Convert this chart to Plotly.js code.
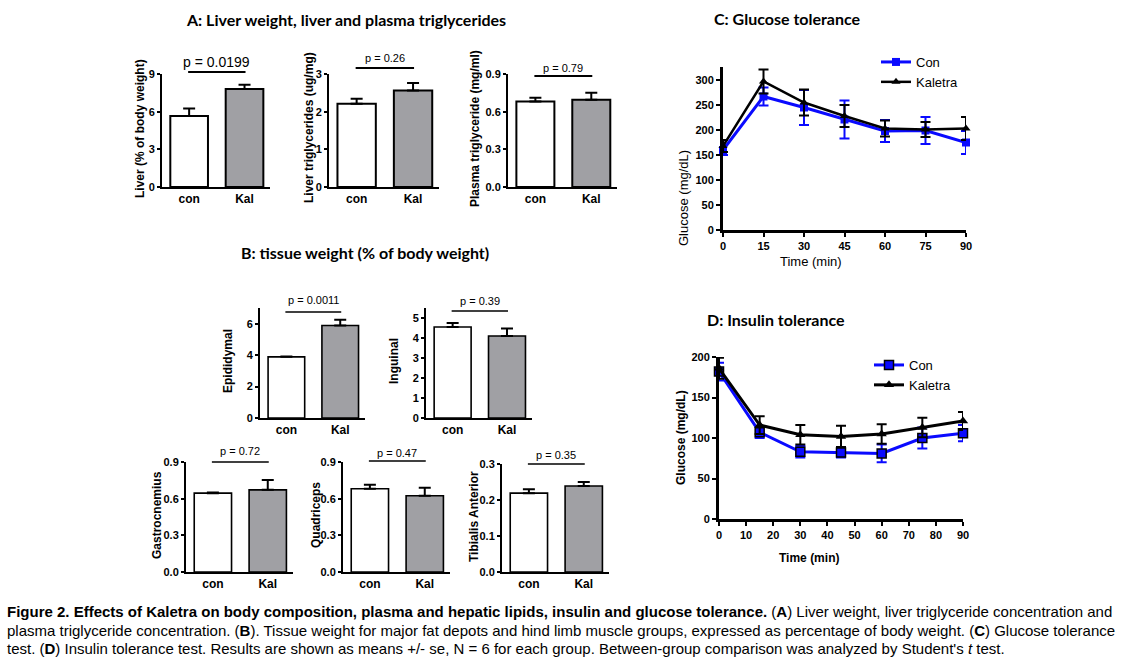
<!DOCTYPE html>
<html><head><meta charset="utf-8">
<script src="https://cdn.plot.ly/plotly-3.0.1.min.js"></script>
<style>html,body{margin:0;padding:0;background:#fff}</style>
</head><body><div id="chart" style="width:1123px;height:661px"></div>
<script>
// ---------- data ----------
const groups = ['con', 'Kal'];
const liverPct = [5.65, 7.8],   liverPctErr = [0.6, 0.35];
const liverTG = [2.21, 2.56],   liverTGErr = [0.13, 0.2];
const plasmaTG = [0.68, 0.695], plasmaTGErr = [0.03, 0.055];
const epididymal = [3.89, 5.89], epididymalErr = [0.02, 0.36];
const inguinal = [4.55, 4.1],   inguinalErr = [0.2, 0.38];
const gastro = [0.645, 0.672],  gastroErr = [0.006, 0.08];
const quad = [0.681, 0.624],    quadErr = [0.033, 0.065];
const tibialis = [0.219, 0.239], tibialisErr = [0.011, 0.011];
const pValues = ['p = 0.0199', 'p = 0.26', 'p = 0.79', 'p = 0.0011', 'p = 0.39', 'p = 0.72', 'p = 0.47', 'p = 0.35'];
const barTitles = ['Liver (% of body weight)', 'Liver triglycerides (ug/mg)', 'Plasma triglyceride (mg/ml)',
  'Epididymal', 'Inguinal', 'Gastrocnemius', 'Quadriceps', 'Tibialis Anterior'];
const barTicks = [[0, 3, 6, 9], [0, 1, 2, 3], [0, 0.3, 0.6, 0.9], [0, 2, 4, 6], [0, 1, 2, 3, 4, 5],
  [0, 0.3, 0.6, 0.9], [0, 0.3, 0.6, 0.9], [0, 0.1, 0.2, 0.3]];
const barTickText = [['0','3','6','9'], ['0','1','2','3'], ['0.0','0.3','0.6','0.9'], ['0','2','4','6'],
  ['0','1','2','3','4','5'], ['0.0','0.3','0.6','0.9'], ['0.0','0.3','0.6','0.9'], ['0.0','0.1','0.2','0.3']];
const barRanges = [[0, 9], [0, 3], [0, 0.9], [0, 7], [0, 5.5], [0, 0.9], [0, 0.9], [0, 0.3]];

const gttTime = [0, 15, 30, 45, 60, 75, 90];
const gttCon = [160, 267, 245, 221, 198, 199, 175];
const gttConErr = [10, 18, 35, 38, 22, 27, 23];
const gttKal = [168, 297, 255, 228, 203, 201, 203];
const gttKalErr = [12, 24, 26, 22, 16, 15, 23];
const gttTicks = [0, 15, 30, 45, 60, 75, 90];
const gttYTicks = [0, 50, 100, 150, 200, 250, 300];

const ittTime = [0, 15, 30, 45, 60, 75, 90];
const ittCon = [182, 107, 83, 82, 81, 100, 106];
const ittConErr = [11, 7, 7, 6, 11, 13, 10];
const ittKal = [186, 116, 104, 102, 105, 113, 121];
const ittKalErr = [13, 11, 12, 13, 12, 12, 11];
const ittTicks = [0, 10, 20, 30, 40, 50, 60, 70, 80, 90];
const ittYTicks = [0, 50, 100, 150, 200];

// ---------- layout helpers ----------
const W = 1123, H = 661;
const FONT = 'Liberation Sans, Arial, sans-serif';
const TFONT = 'Lato, Open Sans, sans-serif';
// [left, right, top, bottom] in px
const boxes = [
  [162, 270, 74, 187], [329, 439, 74, 187], [508, 617, 74, 187],
  [260, 365, 308, 418], [426, 532, 308, 418],
  [186, 293, 462, 572], [343, 450, 462, 572], [502, 609, 464, 572],
  [723, 966, 67, 230], [719, 963, 357, 519]
];
const px = x => x / W, py = y => 1 - y / H;
const XR = [-0.49, 1.46];

const layout = {
  width: W, height: H, margin: {l: 0, r: 0, t: 0, b: 0},
  paper_bgcolor: '#ffffff', plot_bgcolor: 'rgba(0,0,0,0)',
  font: {family: FONT, color: '#000'},
  showlegend: true, annotations: [], shapes: [], bargap: 0
};
const axBase = {
  showline: true, linecolor: '#000', linewidth: 2, showgrid: false, zeroline: false,
  ticks: 'outside', ticklen: 4, tickwidth: 2, tickcolor: '#000',
  tickfont: {family: FONT, size: 11, weight: 'bold', color: '#000'}, fixedrange: true
};
boxes.forEach((b, i) => {
  const n = i === 0 ? '' : String(i + 1);
  layout['xaxis' + n] = Object.assign({}, axBase, {domain: [px(b[0]), px(b[1])], anchor: 'y' + n});
  layout['yaxis' + n] = Object.assign({}, axBase, {domain: [py(b[3]), py(b[2])], anchor: 'x' + n});
});

const traces = [];
const barData = [[liverPct, liverPctErr], [liverTG, liverTGErr], [plasmaTG, plasmaTGErr],
  [epididymal, epididymalErr], [inguinal, inguinalErr], [gastro, gastroErr], [quad, quadErr], [tibialis, tibialisErr]];
const yTitleX = [140, 309, 475, 228, 394, 157, 316, 474];
const yTitleY = [129, 128, 129, 361, 361, 515, 515, 517];
const pTextY = [62, 58, 68, 300, 301, 451, 453, 455];
const pLineY = [72, 68, 76, 312, 311, 462, 461, 464];
const pSize = [14, 11, 11, 11, 11, 11, 11, 11];
const pLW = [2, 2, 2, 1.3, 1.3, 1.3, 1.3, 1.3];

barData.forEach((d, i) => {
  const n = i === 0 ? '' : String(i + 1);
  const b = boxes[i];
  traces.push({
    type: 'bar', x: groups, y: d[0], xaxis: 'x' + n, yaxis: 'y' + n, width: [0.68, 0.68],
    marker: {color: ['#ffffff', '#a0a0a4'], line: {color: '#000', width: i < 3 ? 2 : 1.6}},
    error_y: {type: 'data', symmetric: false, array: d[1], arrayminus: d[1].map(() => 0),
      color: '#000', thickness: 2, width: 6},
    showlegend: false, hoverinfo: 'skip'
  });
  Object.assign(layout['xaxis' + n], {type: 'category', range: XR, ticks: '',
    tickfont: {family: FONT, size: 12, weight: 'bold', color: '#000'}});
  Object.assign(layout['yaxis' + n], {range: barRanges[i], tickvals: barTicks[i], ticktext: barTickText[i], ticklen: 3});
  layout.annotations.push({xref: 'paper', yref: 'paper', x: px(yTitleX[i]), y: py(yTitleY[i]),
    text: '<b>' + barTitles[i] + '</b>', textangle: -90, showarrow: false,
    font: {family: FONT, size: 12, color: '#000'}, xanchor: 'center', yanchor: 'middle'});
  // significance bracket spanning category centres
  const cat = c => b[0] + (c - XR[0]) / (XR[1] - XR[0]) * (b[1] - b[0]);
  layout.shapes.push({type: 'line', xref: 'paper', yref: 'paper', x0: px(cat(0) - 1), x1: px(cat(1) + 1),
    y0: py(pLineY[i]), y1: py(pLineY[i]), line: {color: '#000', width: pLW[i]}});
  layout.annotations.push({xref: 'paper', yref: 'paper', x: px((cat(0) + cat(1)) / 2), y: py(pTextY[i]),
    text: pValues[i], showarrow: false, font: {family: FONT, size: pSize[i], color: '#000'},
    xanchor: 'center', yanchor: 'middle'});
});

// line charts
const blue = '#0a0aff';
traces.push({type: 'scatter', mode: 'lines+markers', x: gttTime, y: gttCon, xaxis: 'x9', yaxis: 'y9', name: 'Con',
  line: {color: blue, width: 3}, marker: {symbol: 'square', size: 8, color: blue},
  error_y: {type: 'data', array: gttConErr, color: blue, thickness: 2, width: 5}, cliponaxis: false, legend: 'legend'});
traces.push({type: 'scatter', mode: 'lines+markers', x: gttTime, y: gttKal, xaxis: 'x9', yaxis: 'y9', name: 'Kaletra',
  line: {color: '#000', width: 2.5}, marker: {symbol: 'triangle-up', size: 8, color: '#000'},
  error_y: {type: 'data', array: gttKalErr, color: '#000', thickness: 2, width: 5}, cliponaxis: false, legend: 'legend'});
traces.push({type: 'scatter', mode: 'lines+markers', x: ittTime, y: ittCon, xaxis: 'x10', yaxis: 'y10', name: 'Con',
  line: {color: blue, width: 3}, marker: {symbol: 'square', size: 9, color: blue, line: {color: '#000', width: 1.5}},
  error_y: {type: 'data', array: ittConErr, color: blue, thickness: 2, width: 5}, cliponaxis: false, legend: 'legend2'});
traces.push({type: 'scatter', mode: 'lines+markers', x: ittTime, y: ittKal, xaxis: 'x10', yaxis: 'y10', name: 'Kaletra',
  line: {color: '#000', width: 3}, marker: {symbol: 'triangle-up', size: 9, color: '#000'},
  error_y: {type: 'data', array: ittKalErr, color: '#000', thickness: 2, width: 5}, cliponaxis: false, legend: 'legend2'});

Object.assign(layout.xaxis9, {range: [0, 90], tickvals: gttTicks, linewidth: 3});
Object.assign(layout.yaxis9, {range: [0, 326], tickvals: gttYTicks, linewidth: 3});
Object.assign(layout.xaxis10, {range: [0, 90], tickvals: ittTicks, linewidth: 3});
Object.assign(layout.yaxis10, {range: [0, 200], tickvals: ittYTicks, linewidth: 3});

const legBase = {xanchor: 'left', yanchor: 'top', bgcolor: 'rgba(0,0,0,0)', borderwidth: 0,
  font: {family: FONT, size: 13, color: '#000'}, itemwidth: 30, tracegroupgap: 0};
layout.legend = Object.assign({}, legBase, {x: px(876), y: py(47)});
layout.legend2 = Object.assign({}, legBase, {x: px(869), y: py(350)});

// axis titles for line charts
layout.annotations.push(
  {xref: 'paper', yref: 'paper', x: px(684), y: py(148), text: 'Glucose (mg/dL)', textangle: -90, showarrow: false,
    font: {family: FONT, size: 13, color: '#000'}},
  {xref: 'paper', yref: 'paper', x: px(844), y: py(261), text: 'Time (min)', showarrow: false,
    font: {family: FONT, size: 13, color: '#000'}},
  {xref: 'paper', yref: 'paper', x: px(681), y: py(438), text: '<b>Glucose (mg/dL)</b>', textangle: -90, showarrow: false,
    font: {family: FONT, size: 12, color: '#000'}},
  {xref: 'paper', yref: 'paper', x: px(841), y: py(567), text: '<b>Time (min)</b>', showarrow: false,
    font: {family: FONT, size: 12, color: '#000'}}
);

// panel titles
const panelTitles = [
  ['<b>A: Liver weight, liver and plasma triglycerides</b>', 346, 20],
  ['<b>B: tissue weight (% of body weight)</b>', 365, 253],
  ['<b>C: Glucose tolerance</b>', 787, 18],
  ['<b>D: Insulin tolerance</b>', 776, 319]
];
panelTitles.forEach(t => layout.annotations.push({xref: 'paper', yref: 'paper', x: px(t[1]), y: py(t[2]),
  text: t[0], showarrow: false, font: {family: TFONT, size: 16, color: '#000'}, xanchor: 'center', yanchor: 'middle'}));

// caption
const caption = [
  '<b>Figure 2. Effects of Kaletra on body composition, plasma and hepatic lipids, insulin and glucose tolerance.</b> (<b>A</b>) Liver weight, liver triglyceride concentration and',
  'plasma triglyceride concentration. (<b>B</b>). Tissue weight for major fat depots and hind limb muscle groups, expressed as percentage of body weight. (<b>C</b>) Glucose tolerance',
  'test. (<b>D</b>) Insulin tolerance test. Results are shown as means +/- se, N = 6 for each group. Between-group comparison was analyzed by Student\'s <i>t</i> test.'
];
const capY = [611, 630, 648];
caption.forEach((c, i) => layout.annotations.push({xref: 'paper', yref: 'paper', x: px(5), y: py(capY[i]),
  text: c, showarrow: false, xanchor: 'left', yanchor: 'middle', align: 'left',
  font: {family: FONT, size: 15, color: '#000'}}));

Plotly.newPlot('chart', traces, layout, {displayModeBar: false, staticPlot: true});
</script>
</body></html>
